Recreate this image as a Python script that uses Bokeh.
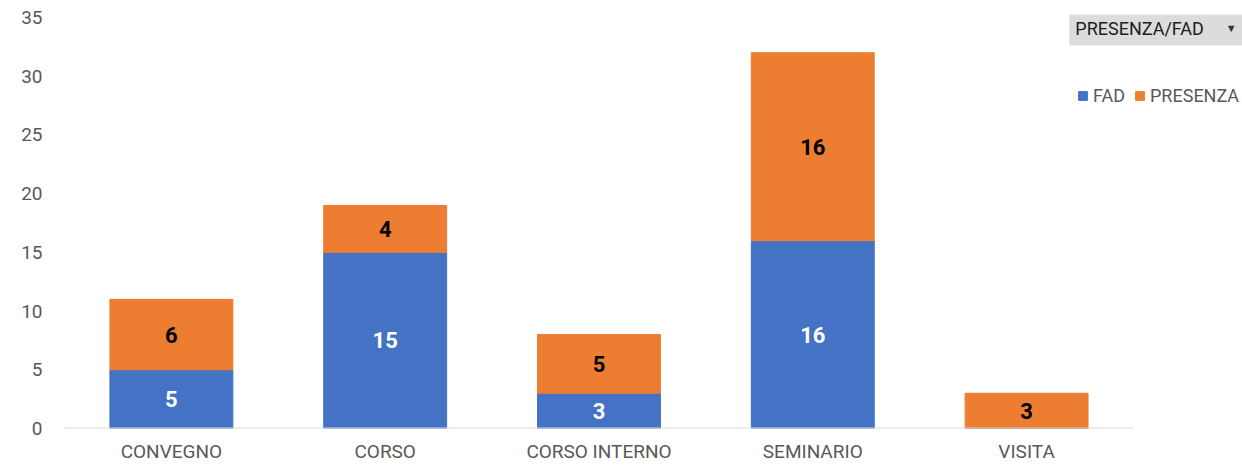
from bokeh.plotting import figure
from bokeh.models import ColumnDataSource, Range1d, Legend, LegendItem, Label, FixedTicker
from bokeh.core.properties import value
from bokeh.embed import file_html
from bokeh.resources import INLINE

categories = ["CONVEGNO", "CORSO", "CORSO INTERNO", "SEMINARIO", "VISITA"]
fad = [5, 15, 3, 16, 0]
presenza = [6, 4, 5, 16, 3]
y_ticks = [0, 5, 10, 15, 20, 25, 30, 35]
series = ["FAD", "PRESENZA"]
colors = ["#4472C4", "#ED7D31"]

FONT = "Roboto"
GREY = "#595959"

n = len(categories)
xpos = [i + 0.5 for i in range(n)]

p = figure(x_range=Range1d(0, 5.51), y_range=Range1d(0, 35.26),
           width=1242, height=465, output_backend="svg", toolbar_location=None,
           min_border_left=64, min_border_right=0, min_border_top=14, min_border_bottom=37)

src = ColumnDataSource(dict(x=xpos, FAD=fad, PRESENZA=presenza))
rs = p.vbar_stack(series, x="x", width=0.575, color=colors, source=src)

# baseline under the categories only
p.segment(x0=[0], y0=[0], x1=[n], y1=[0], line_color="#d9d9d9", line_width=2)

lab_x, lab_y, lab_t, lab_c = [], [], [], []
for xv, f, pr in zip(xpos, fad, presenza):
    if f > 0:
        lab_x.append(xv); lab_y.append(f / 2); lab_t.append(str(f)); lab_c.append("white")
    if pr > 0:
        lab_x.append(xv); lab_y.append(f + pr / 2); lab_t.append(str(pr)); lab_c.append("black")
lsrc = ColumnDataSource(dict(x=lab_x, y=lab_y, t=lab_t, c=lab_c))
p.text(x="x", y="y", text="t", text_color="c", source=lsrc, text_font=value(FONT),
       text_font_style="bold", text_font_size="22px", text_align="center", text_baseline="middle")

p.xaxis.ticker = FixedTicker(ticks=xpos)
p.xaxis.major_label_overrides = {xv: c for xv, c in zip(xpos, categories)}
p.xaxis.major_label_text_font = FONT
p.xaxis.major_label_text_font_size = "19px"
p.xaxis.major_label_text_color = GREY
p.xaxis.major_tick_line_color = None
p.xaxis.minor_tick_line_color = None
p.xaxis.axis_line_color = None
p.xaxis.major_label_standoff = 5

p.yaxis.ticker = FixedTicker(ticks=y_ticks)
p.yaxis.major_label_text_font = FONT
p.yaxis.major_label_text_font_size = "19px"
p.yaxis.major_label_text_color = GREY
p.yaxis.major_tick_line_color = None
p.yaxis.minor_tick_line_color = None
p.yaxis.axis_line_color = None
p.yaxis.major_label_standoff = 16

p.grid.visible = False
p.outline_line_color = None

legend = Legend(items=[LegendItem(label=series[0], renderers=[rs[0]]),
                       LegendItem(label=series[1], renderers=[rs[1]])],
                orientation="horizontal", location=(1013, 322),
                glyph_width=11, glyph_height=11, label_text_font=FONT,
                label_text_font_size="18px", label_text_color=GREY,
                label_standoff=5, spacing=9, padding=0, margin=0,
                border_line_color=None, background_fill_alpha=0)
p.add_layout(legend, "center")

btn = Label(x=4.70, y=34.15, text="PRESENZA/FAD", text_font=FONT, text_font_size="18px",
            text_color="#202020", text_baseline="middle",
            background_fill_color="#dcdcdc",
            padding=dict(left=6, right=60, top=8, bottom=7))
p.add_layout(btn)
arrow = Label(x=5.457, y=34.15, text="▼", text_font_size="11px", text_color="#333333",
              text_baseline="middle", text_align="center")
p.add_layout(arrow)

open("out.html", "w").write(file_html(p, INLINE))
